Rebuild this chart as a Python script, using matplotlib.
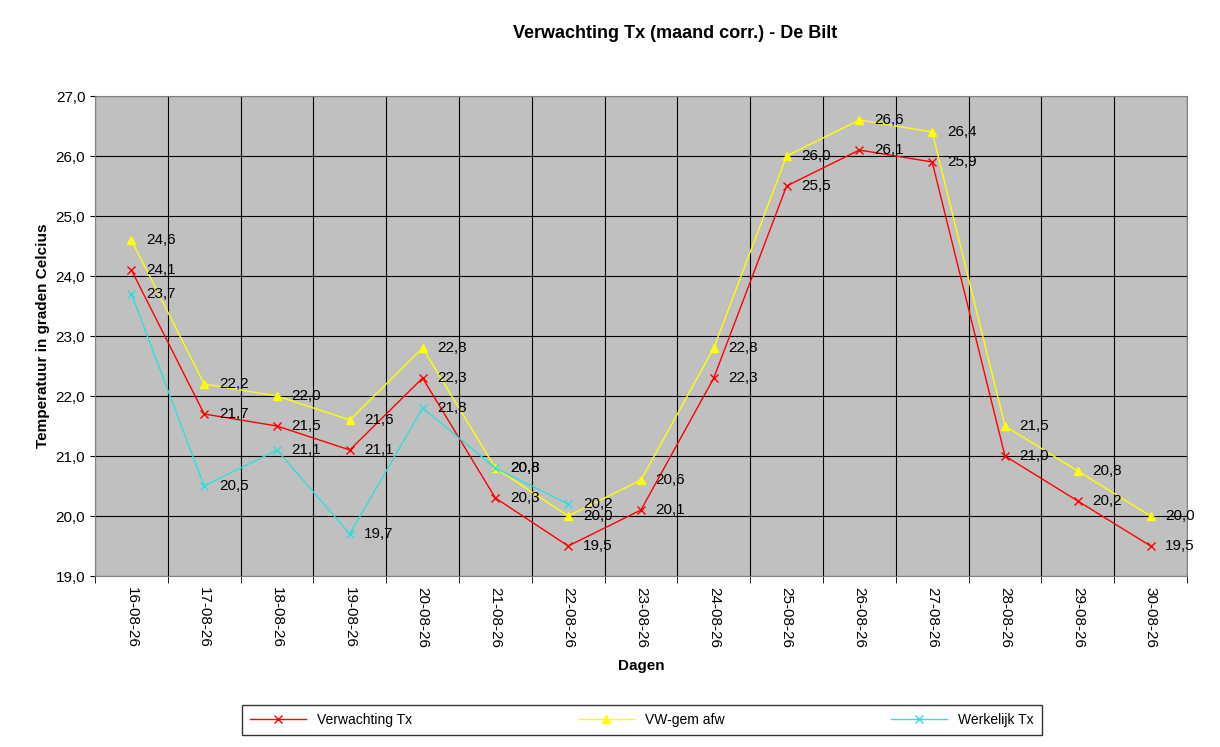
import numpy as np
import matplotlib.pyplot as plt

dates = ['16-08-26', '17-08-26', '18-08-26', '19-08-26', '20-08-26', '21-08-26', '22-08-26', '23-08-26',
         '24-08-26', '25-08-26', '26-08-26', '27-08-26', '28-08-26', '29-08-26', '30-08-26']
verwachting = [24.1, 21.7, 21.5, 21.1, 22.3, 20.3, 19.5, 20.1, 22.3, 25.5, 26.1, 25.9, 21.0, 20.25, 19.5]
vw_gem = [24.6, 22.2, 22.0, 21.6, 22.8, 20.8, 20.0, 20.6, 22.8, 26.0, 26.6, 26.4, 21.5, 20.75, 20.0]
werkelijk = [23.7, 20.5, 21.1, 19.7, 21.8, 20.8, 20.2]

plt.rcParams['font.family'] = ['Liberation Sans', 'DejaVu Sans']

fig = plt.figure(figsize=(12.2, 7.47), dpi=100)
ax = fig.add_axes([95/1220, 1-576/747, (1187-95)/1220, (576-96)/747])
ax.set_facecolor('#c0c0c0')

x = np.arange(len(dates))
series = [(verwachting, 'red', 'x', 'Verwachting Tx'),
          (vw_gem, 'yellow', '^', 'VW-gem afw'),
          (werkelijk, '#33dddd', 'x', 'Werkelijk Tx')]
handles = []
for vals, col, mk, lab in series:
    xs = x[:len(vals)]
    h, = ax.plot(xs, vals, color=col, marker=mk, markersize=6, lw=1, label=lab, zorder=3)
    handles.append(h)
    for xi, v in zip(xs, vals):
        ax.text(xi + 0.2, v, ('%.1f' % v).replace('.', ','), fontsize=11, va='center', ha='left', zorder=4)

ax.set_xlim(-0.5, len(dates) - 0.5)
ax.set_ylim(19, 27)
ax.set_yticks(np.arange(19, 27.1, 1))
ax.set_yticklabels([('%.1f' % v).replace('.', ',') for v in np.arange(19, 27.1, 1)], fontsize=11)
ax.set_xticks(x)
ax.set_xticklabels(dates, rotation=270, fontsize=11)
ax.set_xticks(np.arange(-0.5, len(dates), 1), minor=True)
ax.tick_params(axis='x', which='major', length=0, pad=8)
ax.tick_params(axis='x', which='minor', length=5)
ax.grid(True, which='minor', axis='x', color='black', lw=0.8)
ax.grid(True, which='major', axis='y', color='black', lw=0.8)
for s in ax.spines.values():
    s.set_color('#808080')

ax.set_xlabel('Dagen', fontsize=11, fontweight='bold', labelpad=8)
ax.set_ylabel('Temperatuur in graden Celcius', fontsize=11, fontweight='bold')
fig.text(675/1220, 1-33/747, 'Verwachting Tx (maand corr.) - De Bilt', fontsize=13, fontweight='bold', ha='center', va='center')

leg = fig.legend(handles=handles, loc='center', bbox_to_anchor=(642/1220, 1-720/747), ncol=3,
                 fontsize=10, frameon=True, fancybox=False, edgecolor='black', columnspacing=12,
                 handlelength=4, borderpad=0.6)

fig.savefig('out.png', dpi=100)
